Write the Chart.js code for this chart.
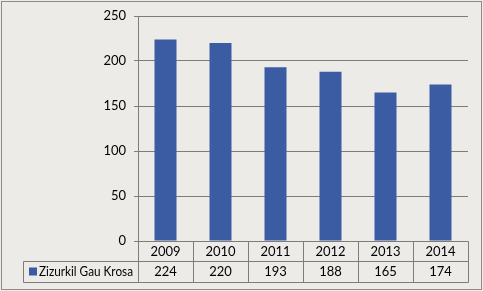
<!DOCTYPE html>
<html>
<head>
<meta charset="utf-8">
<script src="https://cdn.jsdelivr.net/npm/chart.js@4/dist/chart.umd.min.js"></script>
<style>
  body{margin:0;background:#ecebe8;}
  #wrap{width:483px;height:291px;position:relative;}
</style>
</head>
<body>
<div id="wrap"><canvas id="chart" width="483" height="291"></canvas></div>
<script>
const years=['2009','2010','2011','2012','2013','2014'];
const racers=[224,220,193,188,165,174];
const seriesName='Zizurkil Gau Krosa';
const yTicks=[0,50,100,150,200,250];

const FONT='Lato, "Open Sans", sans-serif';
const lineColor='#7f7c78';

// background, outer frame and the data table under the plot
const tablePlugin={
  id:'tablePlugin',
  beforeDraw(chart){
    const c=chart.ctx;
    c.save();
    c.fillStyle='#ecebe8';
    c.fillRect(0,0,chart.width,chart.height);
    c.strokeStyle='#8f8a85';
    c.lineWidth=1;
    c.strokeRect(1.5,1.5,chart.width-3,chart.height-3);
    c.restore();
  },
  afterDraw(chart){
    const c=chart.ctx;
    const x=chart.scales.x;
    const area=chart.chartArea;
    const step=x.getPixelForValue(1)-x.getPixelForValue(0);
    const left=Math.round(area.left)+0.5;
    const right=Math.round(area.right)+0.5;
    const top=Math.round(area.bottom)+0.5;
    const mid=top+20, bot=top+41;
    const legLeft=23.5;
    c.save();
    c.strokeStyle=lineColor;
    c.lineWidth=1;
    c.beginPath();
    c.moveTo(left,top);c.lineTo(right,top);
    c.moveTo(legLeft,mid);c.lineTo(right,mid);
    c.moveTo(legLeft,bot);c.lineTo(right,bot);
    c.moveTo(legLeft,mid);c.lineTo(legLeft,bot);
    for(let i=0;i<=years.length;i++){
      const px=Math.round(x.getPixelForValue(i)-step/2)+0.5;
      c.moveTo(px,top);c.lineTo(px,bot);
    }
    c.stroke();
    c.fillStyle='#000';
    c.font='13px '+FONT;
    c.textAlign='center';
    c.textBaseline='middle';
    years.forEach((y,i)=>{
      const px=x.getPixelForValue(i);
      c.fillText(y,px,top+10.5);
      c.fillText(String(racers[i]),px,mid+10.5);
    });
    c.fillStyle='#3b5ca3';
    c.fillRect(29,mid+6,8,8);
    c.fillStyle='#000';
    c.textAlign='left';
    c.fillText(seriesName,39,mid+10.5,94);
    c.restore();
  }
};

new Chart(document.getElementById('chart'),{
  type:'bar',
  data:{
    labels:years,
    datasets:[{
      label:seriesName,
      data:racers,
      backgroundColor:'#3b5ca3',
      borderWidth:0,
      categoryPercentage:1,
      barPercentage:0.4
    }]
  },
  plugins:[tablePlugin],
  options:{
    responsive:false,
    animation:false,
    layout:{padding:{left:0,top:16,right:15,bottom:50}},
    plugins:{legend:{display:false},tooltip:{enabled:false}},
    scales:{
      x:{
        display:false,
        offset:true
      },
      y:{
        min:0,max:250,
        afterFit(s){s.width=138;},
        afterBuildTicks(s){s.ticks=yTicks.map(v=>({value:v}));},
        border:{color:lineColor},
        grid:{color:lineColor,tickLength:4,drawTicks:true},
        ticks:{
          color:'#000',
          padding:8,
          font:{family:FONT,size:13}
        }
      }
    }
  }
});
</script>
</body>
</html>
